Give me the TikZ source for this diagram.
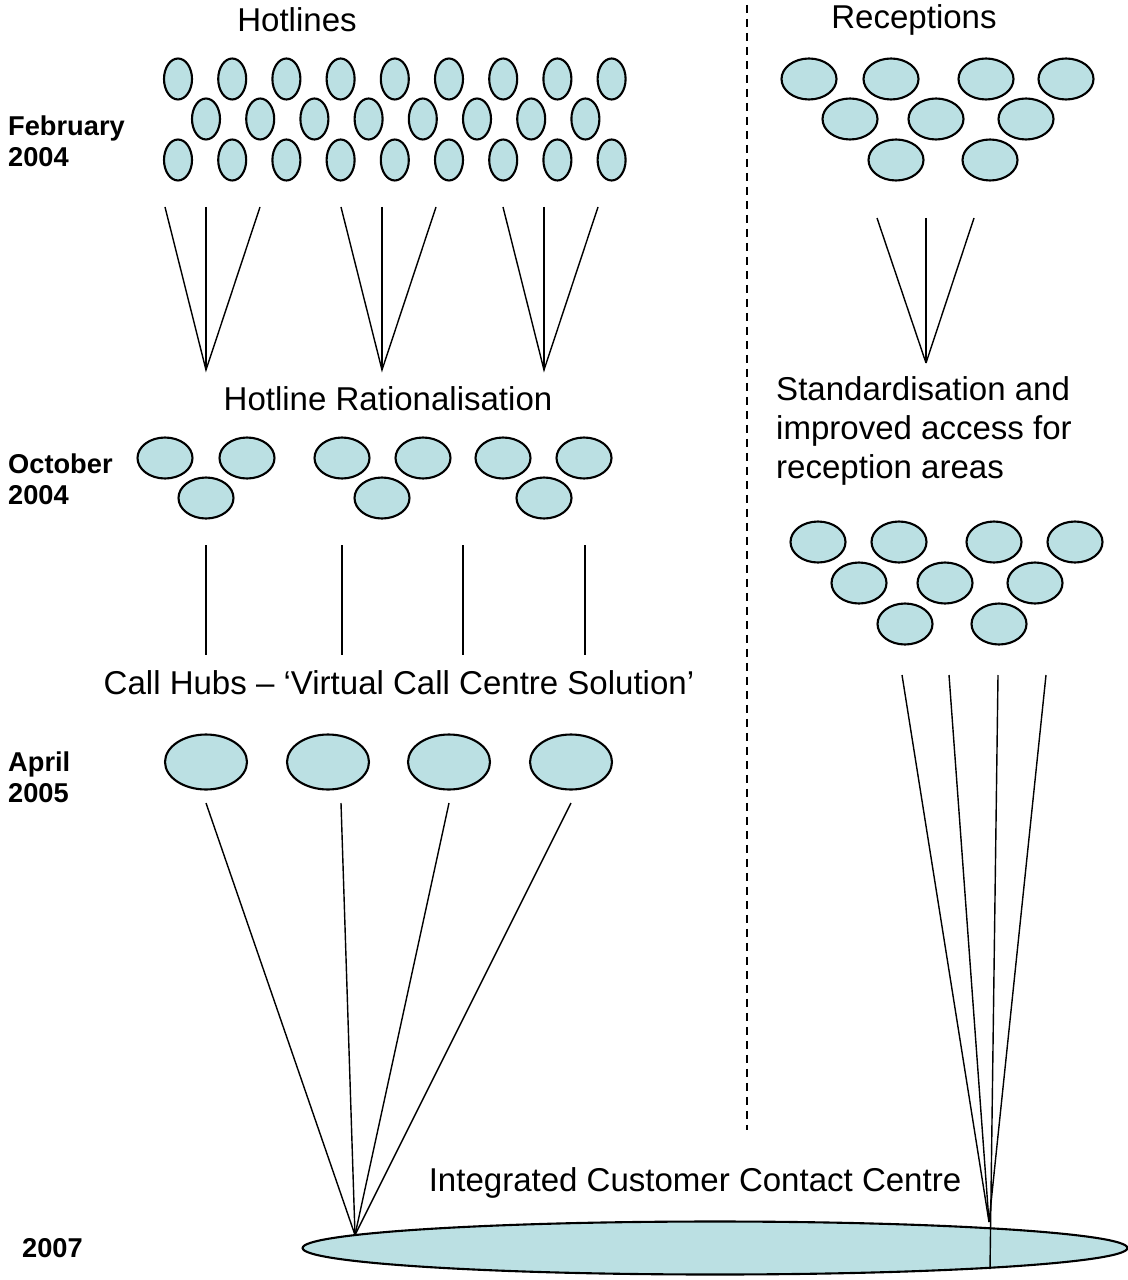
\documentclass[tikz,border=0pt]{standalone}
\usepackage{fontspec}
\setmainfont{Liberation Sans}
\usepackage{tikz}
\usetikzlibrary{shapes.geometric}
\definecolor{ovalblue}{RGB}{187,224,227}
\tikzset{oval/.style={ % Sets the properties for each oval
    ellipse, draw, line width=1.2pt,
    fill=ovalblue, inner sep=0pt},
    thin oval/.style={oval, minimum width=0.56cm, minimum height=0.82cm},
    wide oval/.style={oval, minimum width=1.1cm, minimum height=0.82cm},
    hub oval/.style={oval, minimum width=1.64cm, minimum height=1.1cm},
    link/.style={line width=0.8pt}, % Lines joining the stages
    heading/.style={font=\fontsize{18.8}{22.2}\selectfont},
    datelabel/.style={font=\bfseries\fontsize{15.5}{17.5}\selectfont,
    align=left, anchor=west}}

\begin{document}
\begin{tikzpicture}[x=0.02cm, y=-0.02cm]
        \useasboundingbox (0,0) rectangle (1128,1280);

        % Dashed divider between hotlines and receptions
        \coordinate (divtop) at (747,5);
        \coordinate (divbot) at (747,1130);
        \draw[line width=1pt, dash pattern=on 0.16cm off 0.12cm] (divtop) -- (divbot);

        % Column headings
        \node[heading] (hotlines) at (297,20) {Hotlines};
        \node[heading] (receptions) at (914,20) {Receptions};

        % Dates
        \node[datelabel] (feb) at (2,141) {February\\2004};
        \node[datelabel] (oct) at (2,479) {October\\2004};
        \node[datelabel] (apr) at (2,777) {April\\2005};
        \node[datelabel] (yr) at (16,1248) {2007};

        % Hotlines, February 2004
        \foreach \i in {0,...,8} {
                \node[thin oval] (hotA\i) at (178+54.2*\i,79) {};
                \node[thin oval] (hotC\i) at (178+54.2*\i,160) {};
            }
        \foreach \i in {0,...,7} {
                \node[thin oval] (hotB\i) at (206+54.2*\i,119) {};
            }

        % Receptions, February 2004
        \foreach \x/\y [count=\n] in {809/79, 891/79, 986/79, 1066/79,
                850/119, 936/119, 1026/119, 896/160, 990/160} {
                \node[wide oval] (recA\n) at (\x,\y) {};
            }

        % Hotlines merge into groups
        \foreach \a/\l/\r in {206/165/260, 382/341/436, 544/503/598} {
                \coordinate (fan\a) at (\a,370);
                \coordinate (fanL\a) at (\l,207);
                \coordinate (fanM\a) at (\a,207);
                \coordinate (fanR\a) at (\r,207);
                \draw[link] (fanL\a) -- (fan\a) -- (fanR\a);
                \draw[link] (fanM\a) -- (fan\a);
            }

        % Receptions merge
        \coordinate (recfan) at (926,363);
        \foreach \x in {877, 926, 974} {
                \coordinate (recfan\x) at (\x,218);
                \draw[link] (recfan\x) -- (recfan);
            }

        % Hotline Rationalisation, October 2004
        \node[heading] (rational) at (388,399) {Hotline Rationalisation};
        \foreach \x/\y [count=\n] in {165/458, 247/458, 206/498, 342/458, 423/458,
                382/498, 503/458, 584/458, 544/498} {
                \node[wide oval] (ratio\n) at (\x,\y) {};
            }

        % Standardisation of reception areas
        \node[heading, align=left, anchor=west] (standard) at (770,431)
            {Standardisation and\\improved access for\\reception areas};
        \foreach \x/\y [count=\n] in {818/542, 899/542, 994/542, 1075/542,
                859/583, 945/583, 1035/583, 905/624, 999/624} {
                \node[wide oval] (recB\n) at (\x,\y) {};
            }

        % Groups go to call hubs
        \foreach \x in {206, 342, 463, 585} {
                \coordinate (hubtop\x) at (\x,545);
                \coordinate (hubbot\x) at (\x,655);
                \draw[link] (hubtop\x) -- (hubbot\x);
            }

        % Call hubs, April 2005
        \node[heading] (callhubs) at (399,683) {Call Hubs -- `Virtual Call Centre Solution'};
        \foreach \x [count=\n] in {206, 328, 449, 571} {
                \node[hub oval] (hub\n) at (\x,762) {};
            }

        % Integrated Customer Contact Centre, 2007
        \node[heading] (icctext) at (695,1183) {Integrated Customer Contact Centre};
        \node[oval, minimum width=16.5cm, minimum height=1.06cm] (icc) at (715,1248) {};

        % Call hubs converge on the contact centre
        \coordinate (hubmeet) at (355,1235);
        \foreach \x in {206, 341, 449, 571} {
                \coordinate (hubline\x) at (\x,803);
                \draw[link] (hubline\x) -- (hubmeet);
            }

        % Receptions converge on the contact centre
        \coordinate (recmeet) at (989,1222);
        \coordinate (recend) at (990,1269);
        \foreach \x in {902, 949, 1046} {
                \coordinate (recline\x) at (\x,675);
                \draw[link] (recline\x) -- (recmeet);
            }
        \coordinate (recline998) at (998,675);
        \draw[link] (recline998) -- (recend);

    \end{tikzpicture}
\end{document}
